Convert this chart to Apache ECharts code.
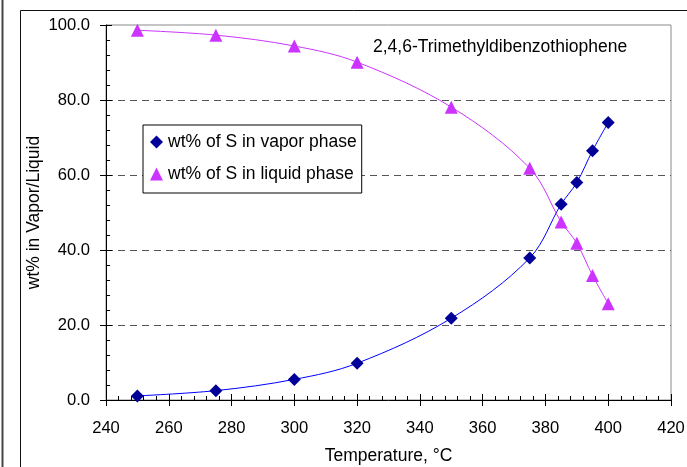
<!DOCTYPE html>
<html>
<head>
<meta charset="utf-8">
<script src="https://cdn.jsdelivr.net/npm/echarts@6/dist/echarts.min.js"></script>
<style>
html,body{margin:0;padding:0;background:#fff;}
#c{width:687px;height:467px;}
</style>
</head>
<body>
<div id="c"></div>
<script>
var temperatures = [250, 275, 300, 320, 350, 375, 385, 390, 395, 400];
var vaporWt = [1.1, 2.5, 5.5, 9.8, 21.8, 37.9, 52.2, 58.0, 66.5, 74.0];
var liquidWt = [98.6, 97.3, 94.4, 90.1, 78.1, 61.8, 47.5, 41.8, 33.2, 25.7];
var vaporName = 'wt% of S in vapor phase';
var liquidName = 'wt% of S in liquid phase';
var chartTitle = '2,4,6-Trimethyldibenzothiophene';
var xName = 'Temperature, °C';
var yName = 'wt% in Vapor/Liquid';

function pairs(xs, ys) { return xs.map(function (x, i) { return [x, ys[i]]; }); }

var FONT = '"Liberation Sans", Arial, sans-serif';
var chart = echarts.init(document.getElementById('c'), null, {renderer: 'canvas'});

var axisX = {
  type: 'value', min: 240, max: 420, interval: 20, position: 'bottom'
};
var axisY = {
  type: 'value', min: 0, max: 100, interval: 20, position: 'left'
};

chart.setOption({
  animation: false,
  backgroundColor: '#fff',
  textStyle: {fontFamily: FONT},
  title: {
    text: chartTitle, left: 373, top: 38, padding: 0,
    textStyle: {fontFamily: FONT, fontSize: 17.5, fontWeight: 'normal', color: '#000'}
  },
  grid: {
    left: 106, top: 25, right: 16, bottom: 67,
    containLabel: false, outerBoundsMode: 'none',
    show: true, borderColor: '#8a8a8a', borderWidth: 1, backgroundColor: 'transparent'
  },
  legend: {
    orient: 'vertical', left: 143, top: 125,
    padding: [7, 5, 9, 7],
    itemWidth: 13, itemHeight: 13, itemGap: 12,
    backgroundColor: '#fff', borderColor: '#000', borderWidth: 1, borderRadius: 0,
    textStyle: {fontFamily: FONT, fontSize: 17.5, color: '#000', lineHeight: 20},
    data: [
      {name: vaporName, icon: 'diamond'},
      {name: liquidName, icon: 'triangle'}
    ]
  },
  xAxis: [
    Object.assign({}, axisX, {
      name: xName, nameLocation: 'middle', nameGap: 47, nameMoveOverlap: false,
      nameTextStyle: {fontFamily: FONT, fontSize: 17.5, color: '#000'},
      axisLine: {show: true, onZero: false, lineStyle: {color: '#000', width: 1}},
      axisTick: {show: true, inside: false, length: 6, lineStyle: {color: '#000'}},
      minorTick: {show: false},
      axisLabel: {show: true, margin: 20, fontFamily: FONT, fontSize: 16.6, color: '#000'},
      splitLine: {show: false}
    }),
    Object.assign({}, axisX, {
      axisLine: {show: false, onZero: false},
      axisTick: {show: true, inside: true, length: 6, lineStyle: {color: '#000'}},
      minorTick: {show: true, splitNumber: 5, length: 4, lineStyle: {color: '#000'}},
      axisLabel: {show: false},
      splitLine: {show: false}
    })
  ],
  yAxis: [
    Object.assign({}, axisY, {
      name: yName, nameLocation: 'middle', nameGap: 63, nameMoveOverlap: false,
      nameTextStyle: {fontFamily: FONT, fontSize: 17.5, color: '#000'},
      axisLine: {show: true, onZero: false, lineStyle: {color: '#000', width: 1}},
      axisTick: {show: true, inside: false, length: 6, lineStyle: {color: '#000'}},
      minorTick: {show: false},
      axisLabel: {show: true, margin: 16, fontFamily: FONT, fontSize: 16.6, color: '#000',
        formatter: function (v) { return v.toFixed(1); }},
      splitLine: {show: true, lineStyle: {
        color: ['rgba(0,0,0,0)', '#555', '#555', '#555', '#555', 'rgba(0,0,0,0)'],
        type: [7, 5], width: 1}}
    }),
    Object.assign({}, axisY, {
      axisLine: {show: false, onZero: false},
      axisTick: {show: true, inside: true, length: 6, lineStyle: {color: '#000'}},
      minorTick: {show: true, splitNumber: 5, length: 4, lineStyle: {color: '#000'}},
      axisLabel: {show: false},
      splitLine: {show: false}
    })
  ],
  graphic: [
    {type: 'line', shape: {x1: 2.5, y1: 0, x2: 2.5, y2: 467}, style: {stroke: '#444', lineWidth: 2}, z: 100},
    {type: 'line', shape: {x1: 20.5, y1: 10.5, x2: 20.5, y2: 467}, style: {stroke: '#111', lineWidth: 1}, z: 100},
    {type: 'line', shape: {x1: 20.5, y1: 10.5, x2: 687, y2: 10.5}, style: {stroke: '#111', lineWidth: 1}, z: 100}
  ],
  series: [
    {
      name: 'vaporCurve', type: 'line', smooth: 0.35, showSymbol: false, silent: true,
      xAxisIndex: 0, yAxisIndex: 0,
      data: pairs(temperatures, vaporWt),
      lineStyle: {color: '#0000FF', width: 1}, itemStyle: {color: '#0000FF'}, z: 3
    },
    {
      name: 'liquidCurve', type: 'line', smooth: 0.35, showSymbol: false, silent: true,
      xAxisIndex: 0, yAxisIndex: 0,
      data: pairs(temperatures, liquidWt),
      lineStyle: {color: '#CC33FF', width: 1}, itemStyle: {color: '#CC33FF'}, z: 3
    },
    {
      name: vaporName, type: 'scatter', symbol: 'diamond', symbolSize: [13, 13],
      xAxisIndex: 0, yAxisIndex: 0,
      data: pairs(temperatures, vaporWt),
      itemStyle: {color: '#000099', opacity: 1}, z: 4
    },
    {
      name: liquidName, type: 'scatter', symbol: 'triangle', symbolSize: [13, 13],
      xAxisIndex: 0, yAxisIndex: 0,
      data: pairs(temperatures, liquidWt),
      itemStyle: {color: '#CC33FF', opacity: 1}, z: 4
    }
  ]
});
</script>
</body>
</html>
